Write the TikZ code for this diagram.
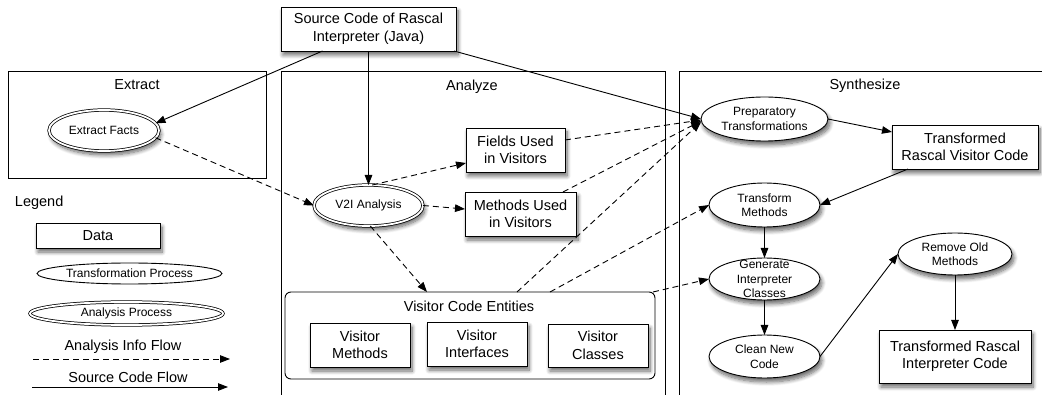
\documentclass[tikz,border=0pt]{standalone}
\usepackage{fontspec}
\setmainfont{Liberation Sans}
\usetikzlibrary{shapes.geometric,arrows.meta,shadows.blur,calc}
\begin{document}
\begin{tikzpicture}[x=1pt,y=-1pt,
  every node/.style={inner sep=0pt, outer sep=0pt},
  shad/.style={blur shadow={shadow xshift=2pt, shadow yshift=-4pt, shadow blur steps=8, shadow opacity=60, shadow blur radius=4pt}},
  databox/.style={draw, line width=0.9pt, fill=white, shad, align=center, font=\fontsize{14.5}{17.5}\selectfont},
  proc/.style={ellipse, draw, line width=0.9pt, fill=white, shad},
  anaproc/.style={ellipse, draw, line width=0.75pt, double=white, double distance=1.8pt, fill=white, shad},
  etxt/.style={align=center, font=\fontsize{12}{14.5}\selectfont},
  lbl/.style={font=\fontsize{14.5}{17.5}\selectfont},
  frame/.style={draw, line width=0.9pt},
  flow/.style={draw, line width=0.9pt, -{Triangle[length=10pt,width=7.5pt]}},
  info/.style={flow, dash pattern=on 6pt off 4pt},
]
\useasboundingbox (0,0) rectangle (1042,395);
\clip (0,0) rectangle (1042,395);

% frames
\draw[frame] (8,71) rectangle (266,178);
\draw[frame] (281,400) -- (281,71) -- (665,71) -- (665,400);
\draw[frame] (679,400) -- (679,71) -- (1050,71) -- (1050,400);
\node[lbl] (extl) at (137,85) {Extract};
\node[lbl] (anal) at (472,87) {Analyze};
\node[lbl] (synl) at (865,86) {Synthesize};

% source
\node[databox, minimum width=175pt, minimum height=44pt] (src) at (368.5,29) {Source Code of Rascal\\Interpreter (Java)};

% extract
\node[anaproc, minimum width=110pt, minimum height=41pt, label={[etxt]center:Extract Facts}] (ef) at (104,130.5) {};

% analyze
\node[anaproc, minimum width=109pt, minimum height=41pt, label={[etxt]center:V2I Analysis}] (v2i) at (368.5,205.5) {};
\node[databox, minimum width=99pt, minimum height=44pt] (fields) at (515.5,150) {Fields Used\\in Visitors};
\node[databox, minimum width=111pt, minimum height=44pt] (meth) at (520.5,214) {Methods Used\\in Visitors};
\node[draw, line width=0.9pt, rounded corners=6pt, minimum width=370pt, minimum height=87pt] (vce) at (470,335.5) {};
\node[lbl] (vcel) at (469,306) {Visitor Code Entities};
\node[databox, minimum width=100pt, minimum height=44pt] (vm) at (360,345) {Visitor\\Methods};
\node[databox, minimum width=100pt, minimum height=44pt] (vi) at (477,344) {Visitor\\Interfaces};
\node[databox, minimum width=100pt, minimum height=43pt] (vc) at (598,345.5) {Visitor\\Classes};

% synthesize
\node[proc, minimum width=127pt, minimum height=44pt, label={[etxt]center:{Preparatory\\Transformations}}] (prep) at (764.5,119) {};
\node[databox, minimum width=146pt, minimum height=44pt] (trvc) at (965,147) {Transformed\\Rascal Visitor Code};
\node[proc, minimum width=111pt, minimum height=44pt, label={[etxt]center:{Transform\\Methods}}] (tm) at (764.5,205) {};
\node[proc, minimum width=111pt, minimum height=42pt, label={[etxt]center:{Generate\\Interpreter\\Classes}}] (gen) at (764.5,279) {};
\node[proc, minimum width=111pt, minimum height=43pt, label={[etxt]center:{Clean New\\Code}}] (cnc) at (764.5,356.5) {};
\node[proc, minimum width=114pt, minimum height=42pt, label={[etxt]center:{Remove Old\\Methods}}] (rom) at (955,254) {};
\node[databox, minimum width=152pt, minimum height=53pt] (tric) at (955,356.5) {Transformed Rascal\\Interpreter Code};

% legend
\node[lbl, anchor=west] (leg) at (15,203) {Legend};
\node[databox, minimum width=124pt, minimum height=25pt] (ldata) at (98,235.5) {Data};
\node[ellipse, draw, line width=0.9pt, fill=white, minimum width=185pt, minimum height=21pt, label={[etxt]center:Transformation Process}] (ltp) at (129.5,273.5) {};
\node[ellipse, draw, line width=0.75pt, double=white, double distance=1.8pt, fill=white, minimum width=193pt, minimum height=23pt, label={[etxt]center:Analysis Process}] (lap) at (126.5,313.5) {};
\node[lbl] (linfo) at (123,347) {Analysis Info Flow};
\node[lbl] (lsrc) at (128,377) {Source Code Flow};
\coordinate (la1) at (33,359);
\coordinate (la2) at (230,359);
\coordinate (lb1) at (32,387);
\coordinate (lb2) at (228,387);
\draw[info] (la1) -- (la2);
\draw[flow] (lb1) -- (lb2);

% source code flows
\draw[flow] ([xshift=-46pt]src.south) -- (ef.8);
\draw[flow] (src.south) -- (v2i.north);
\draw[flow] ([xshift=-2pt]src.south east) -- (prep.west);

% analysis info flows
\draw[info] (ef.-8) -- (v2i.west);
\draw[info] (v2i.80) -- ([yshift=9pt]fields.south west);
\draw[info] (v2i.east) -- ([yshift=5pt]meth.west);
\draw[info] (v2i.-85) -- ([xshift=-43pt]vce.north);
\draw[info] ([yshift=10pt]fields.east) -- ([yshift=-1pt]prep.west);
\draw[info] ([xshift=-13pt]meth.north east) -- ([yshift=-2pt]prep.west);
\draw[info] ([xshift=47pt]vce.north) -- ([yshift=-3pt]prep.west);
\draw[info] ([xshift=80pt]vce.north) -- (tm.west);
\draw[info] ([xshift=-2pt]vce.north east) -- (gen.west);

% synthesis flows
\draw[flow] (prep.east) -- ([yshift=-7pt]trvc.north west);
\draw[flow] ([xshift=16pt]trvc.south west) -- (tm.east);
\draw[flow] (tm.south) -- (gen.north);
\draw[flow] (gen.south) -- (cnc.north);
\draw[flow] (cnc.east) -- (rom.west);
\draw[flow] (rom.south) -- (tric.north);
\end{tikzpicture}
\end{document}
